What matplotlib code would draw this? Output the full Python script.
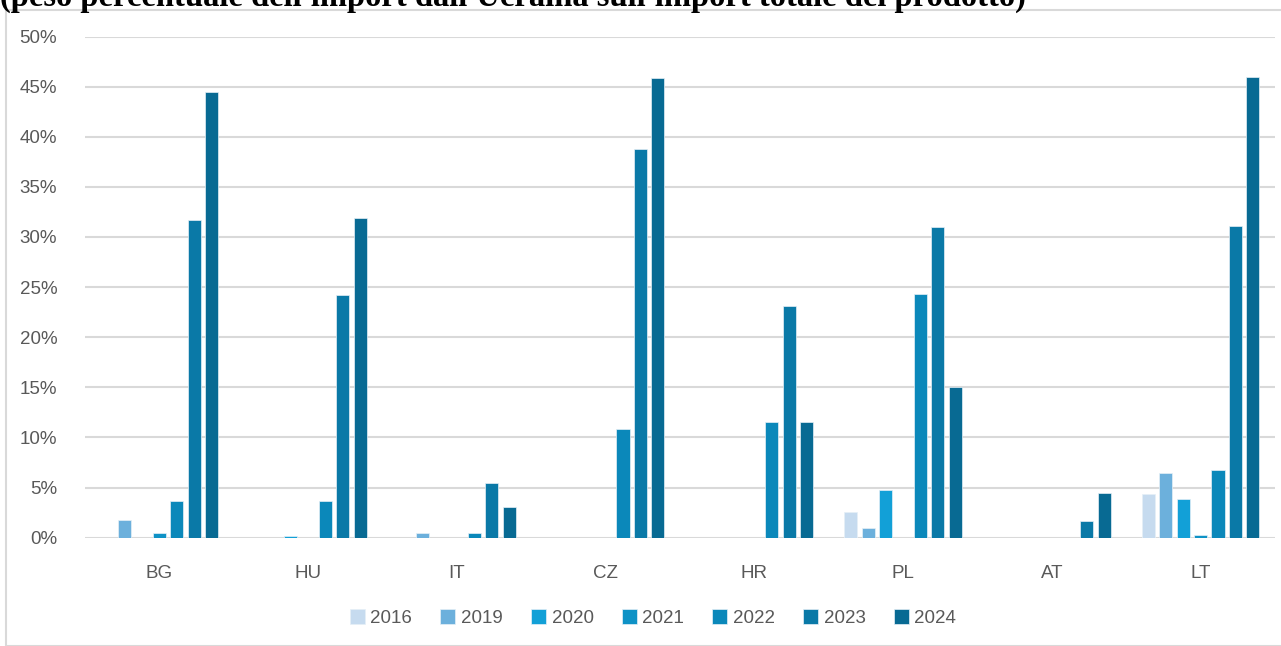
import numpy as np
import matplotlib.pyplot as plt
from matplotlib.patches import Rectangle
from matplotlib.ticker import FuncFormatter

# Categories and series (share of imports from Ukraine, %)
countries = ["BG", "HU", "IT", "CZ", "HR", "PL", "AT", "LT"]
years = ["2016", "2019", "2020", "2021", "2022", "2023", "2024"]

v2016 = [0, 0, 0, 0, 0, 2.6, 0, 4.4]
v2019 = [1.8, 0, 0.5, 0, 0, 1.0, 0, 6.5]
v2020 = [0, 0.2, 0, 0, 0, 4.8, 0, 3.85]
v2021 = [0.5, 0, 0, 0, 0, 0, 0, 0.3]
v2022 = [3.7, 3.7, 0.5, 10.8, 11.5, 24.3, 0, 6.8]
v2023 = [31.7, 24.2, 5.5, 38.8, 23.1, 31.0, 1.7, 31.1]
v2024 = [44.5, 31.9, 3.1, 45.9, 11.5, 15.0, 4.5, 46.0]

series = [v2016, v2019, v2020, v2021, v2022, v2023, v2024]
colors = ["#c6dbef", "#6cb0dc", "#12a0d7", "#0e92c6", "#0b88ba", "#0a79a7", "#086a93"]

txt = "#595959"
plt.rcParams['font.family'] = ['Liberation Sans', 'DejaVu Sans']

fig = plt.figure(figsize=(12.81, 6.46), dpi=100)
W, H = 1281, 646

# outer chart frame
fig.patches.append(Rectangle((6 / W, 0), 1.2, 1 - 10 / H, transform=fig.transFigure,
                             fill=False, edgecolor="#d9d9d9", linewidth=1.5))

# title, cut off at top as in the source
fig.text(0.0, 1 - 6 / H, "(peso percentuale dell'import dall'Ucraina sull'import totale del prodotto)",
         family="Liberation Serif", fontweight="bold", fontsize=23.5, ha="left", va="baseline", color="black")

ax = fig.add_axes([85 / W, 1 - 537.7 / H, 1190 / W, (537.7 - 36.5) / H])

x = np.arange(len(countries))
step = 0.117
width = 0.088
for i, (vals, c, yr) in enumerate(zip(series, colors, years)):
    ax.bar(x + (i - 3) * step, vals, width, color=c, edgecolor="#e6f0f7", linewidth=0.5,
           label=yr, zorder=3)

ax.set_xlim(-0.5, len(countries) - 0.5)
ax.set_ylim(0, 50)
ax.set_yticks(np.arange(0, 51, 5))
ax.yaxis.set_major_formatter(FuncFormatter(lambda v, p: f"{v:.0f}%"))
ax.set_xticks(x)
ax.set_xticklabels(countries)
ax.tick_params(axis="both", length=0, colors=txt, labelsize=13.5)
ax.tick_params(axis="y", pad=20)
ax.tick_params(axis="x", pad=20)
ax.grid(axis="y", color="#d9d9d9", linewidth=1.5, zorder=0)
for s in ax.spines.values():
    s.set_visible(False)

ax.legend(loc="center", bbox_to_anchor=(653 / W, 1 - 618 / H), bbox_transform=fig.transFigure,
          ncol=7, frameon=False, fontsize=13.5, handlelength=0.8, handleheight=0.8,
          handletextpad=0.3, columnspacing=1.5, labelcolor=txt)

fig.savefig("out.png", dpi=100)
